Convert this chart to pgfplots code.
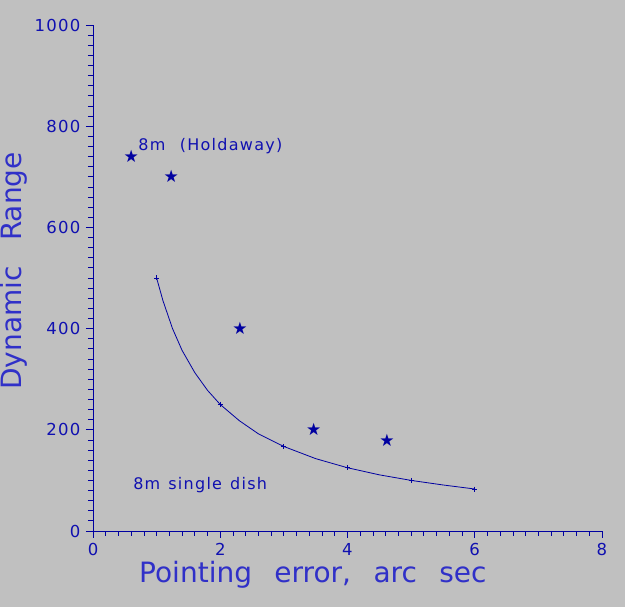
\documentclass[border=0pt]{standalone}
\usepackage{fontspec}
\setmainfont{DejaVu Sans}
\newfontfamily\symfont{DejaVu Sans}
\newfontfamily\smallfont[LetterSpace=8]{DejaVu Sans}
\usepackage{pgfplots}
\pgfplotsset{compat=1.18}
\definecolor{bg}{RGB}{192,192,192}
\definecolor{ln}{RGB}{0,0,160}
\definecolor{tk}{RGB}{16,16,176}
\definecolor{lb}{RGB}{48,48,200}
\begin{document}
\begin{tikzpicture}
\fill[bg] (-93bp,-76bp) rectangle (532bp,531bp);
\begin{axis}[
  at={(0,0)}, anchor=south west,
  scale only axis, width=509bp, height=506bp,
  xmin=0, xmax=8, ymin=0, ymax=1000,
  axis x line=bottom, axis y line=left,
  axis line style={-, ln, line width=0.8pt},
  xtick={0,2,4,6,8}, ytick={0,200,400,600,800,1000},
  minor x tick num=9, minor y tick num=9,
  tick align=outside,
  major tick length=7bp, minor tick length=5bp,
  every tick/.style={ln, line width=0.8pt},
  tick label style={font=\fontsize{16.5bp}{18bp}\smallfont, text=tk},
  /pgf/number format/assume math mode=true,
  /pgf/number format/1000 sep={},
  xticklabel style={yshift=-2bp},
  yticklabel style={xshift=-2bp},
  clip=false,
]
\addplot[ln, line width=0.8pt, no marks] coordinates {
 (1,500) (1.1,455) (1.25,400) (1.4,357) (1.6,313) (1.8,278) (2,250)
 (2.3,218) (2.6,192) (3,167) (3.5,143) (4,125) (4.5,111) (5,100)
 (5.5,91) (6,83)};
\addplot[ln, only marks, mark=+, mark size=2.5bp, mark options={line width=0.8pt}] coordinates {
 (1,500) (2,250) (3,167) (4,125) (5,100) (6,83)};
\addplot[ln, only marks, mark=text, text mark={\textcolor{ln}{\fontsize{17bp}{17bp}\symfont ★}}] coordinates {
 (0.6,740) (1.23,700) (2.31,400) (3.47,200) (4.62,180)};
\node[anchor=base west, text=tk, font=\fontsize{16bp}{18bp}\smallfont, inner sep=0pt] at (axis cs:0.71,751) {8m\hspace{0.9em}(Holdaway)};
\node[anchor=base west, text=tk, font=\fontsize{16bp}{18bp}\smallfont, inner sep=0pt] at (axis cs:0.63,83) {8m\hspace{0.5em}single\hspace{0.5em}dish};
\node[text=lb, font=\fontsize{28bp}{30bp}\selectfont, inner sep=0pt, anchor=base] at (rel axis cs:0.432,0) [yshift=-51bp] {Pointing\hspace{0.8em}error,\hspace{0.8em}arc\hspace{0.8em}sec};
\node[text=lb, font=\fontsize{28bp}{30bp}\selectfont, inner sep=0pt, anchor=base, rotate=90] at (rel axis cs:-0.1395,0.514) {Dynamic\hspace{0.9em}Range};
\end{axis}
\pgfresetboundingbox
\path (-93bp,-76bp) rectangle (532bp,531bp);
\end{tikzpicture}
\end{document}
